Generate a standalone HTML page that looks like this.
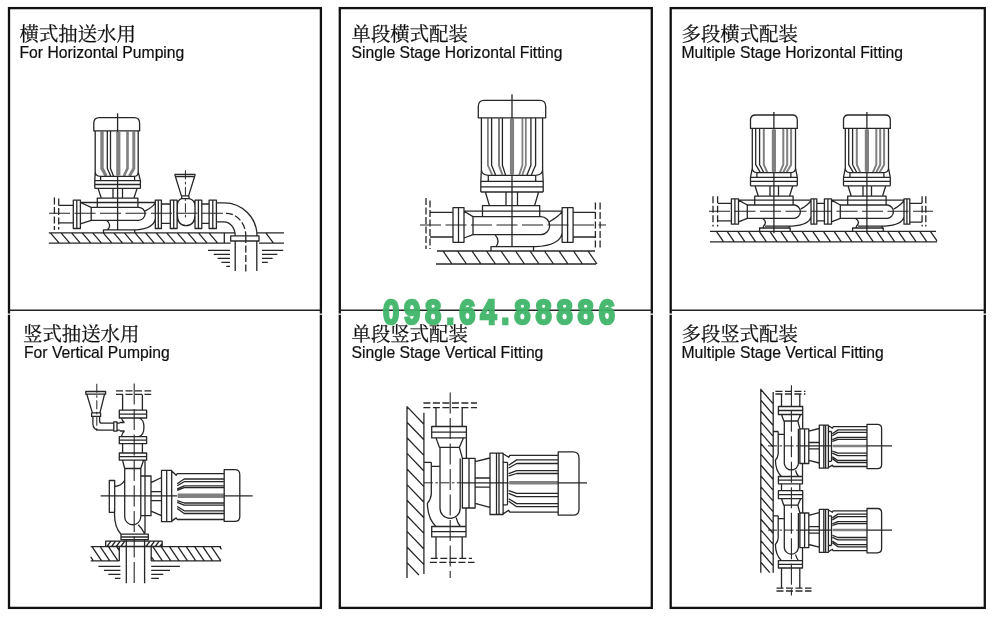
<!DOCTYPE html>
<html lang="zh">
<head>
<meta charset="utf-8">
<title>Pump installation diagrams</title>
<style>
html,body{margin:0;padding:0;background:#fff;}
body{width:1000px;height:622px;overflow:hidden;}
svg{display:block;}
.zh{font-family:"Liberation Serif","Noto Serif CJK SC",serif;font-size:19.4px;stroke:#111;stroke-width:.25px;}
.en{font-family:"Liberation Sans","Noto Sans CJK SC",sans-serif;font-size:15.7px;stroke:#111;stroke-width:.2px;}
.wm{font-family:"Liberation Sans",sans-serif;font-weight:bold;font-size:35.6px;fill:#3fb568;stroke:#3fb568;stroke-width:2.6px;stroke-linejoin:miter;opacity:.94;}
</style>
</head>
<body>
<svg width="1000" height="622" viewBox="0 0 1000 622">
<defs><filter id="soft" x="0" y="0" width="1000" height="622" filterUnits="userSpaceOnUse"><feGaussianBlur stdDeviation="0.3"/></filter></defs>
<rect width="1000" height="622" fill="#fff"/>
<g fill="none" stroke="#111" stroke-width="2.3">
<rect x="9" y="8.1" width="311.9" height="599.8"/>
<rect x="339.8" y="8.1" width="312" height="599.8"/>
<rect x="670.7" y="8.1" width="314.1" height="599.8"/>
</g>
<g fill="#fff" fill-opacity="0.85">
<rect x="7" y="313.5" width="4" height="1.4"/>
<rect x="318.9" y="313.5" width="4" height="1.4"/>
<rect x="337.8" y="313.5" width="4" height="1.4"/>
<rect x="649.8" y="313.5" width="4" height="1.4"/>
<rect x="668.7" y="313.5" width="4" height="1.4"/>
<rect x="982.8" y="313.5" width="4" height="1.4"/>
</g>
<g stroke="#222" stroke-width="1.6">
<line x1="9" y1="310.3" x2="320.9" y2="310.3"/>
<line x1="339.8" y1="310.3" x2="651.8" y2="310.3"/>
<line x1="670.7" y1="310.3" x2="984.8" y2="310.3"/>
</g>
<g fill="none" stroke="#262626" stroke-width="1.3" stroke-linecap="butt" stroke-linejoin="round" filter="url(#soft)">
<path stroke="#808080" stroke-width="1.8" d="M487.9 118.3V165.3L492.2 174.9M522.4 118.3V165.3L519.2 174.9M525.8 118.3V165.3L522.3 174.9"/>
<path stroke="#808080" stroke-width="2" d="M499 118.3V165.3L502.4 174.9M763.8 128.9V164.7L767.3 172.3M783.3 128.9V164.7L779.9 172.3M787.2 128.9V164.7L783.3 172.3M791.1 128.9V164.7L786.7 172.3M856.8 128.9V164.7L860.3 172.3M876.3 128.9V164.7L872.9 172.3M880.2 128.9V164.7L876.3 172.3M884.1 128.9V164.7L879.7 172.3"/>
<path stroke="#808080" stroke-width="2.5" d="M832.9 445.9L867 445.9M832.9 530.1L867 530.1"/>
<path stroke="#808080" stroke-width="2.6" d="M127.5 131.4V168.4L123.9 176"/>
<path stroke="#808080" stroke-width="3" d="M133.8 131.4V168.4L129.4 176"/>
<path stroke="#808080" stroke-width="3.4" d="M102 131.4V168.4L106.1 176"/>
<path stroke="#808080" stroke-width="3.6" d="M509.2 482.8L558.2 482.8"/>
<path stroke="#808080" stroke-width="4.2" d="M118.3 131.9L118.3 175.4M512 118.8L512 174.3M773.9 129.4L773.9 171.7M866.9 129.4L866.9 171.7"/>
<path stroke="#808080" stroke-width="4.6" d="M177.7 495.8L224.2 495.8"/>
<path d="M93.8 130.9V123.2Q93.8 117.7 99.3 117.7H134.1Q139.6 117.7 139.6 123.2V130.9ZM95.2 130.9V171.9Q95.2 175.9 100.6 176.4M100.6 176.4L100.6 180.6M95.2 171.9L94.8 180.6L94.8 188.4M138.2 130.9V171.9Q138.2 175.9 134.6 176.4M134.6 176.4L134.6 180.6M138.2 171.9L140.4 180.6L140.4 188.4M100.6 176.4L134.6 176.4M107.3 131.4V168.4L110.7 176M110.5 131.4V168.4L113.5 176M94.8 180.6L140.4 180.6M94.8 184.5L140.4 184.5M94.8 188.4L140.4 188.4M98.1 188.4L101.3 198.2M137.1 188.4L133.9 198.2M113 188.4L113 198.2M122.5 188.4L122.5 198.2M97.3 207.3L97.3 198.2L137.9 198.2L137.9 207.3M80.4 202.5L155.3 202.5M91.2 207.3H138.6A6.5 6.5 0 0 1 138.6 220.3H91.2ZM80.4 202.5L91.2 207.3M80.4 223.9L91.2 220.3M73.3 200.1L80.4 200.1L80.4 228.5L73.3 228.5ZM76.8 200.1L76.8 228.5M155.3 200.1L161.4 200.1L161.4 228.5L155.3 228.5ZM158.3 200.1L158.3 228.5M144.8 211.1Q152.3 207.5 155.3 203M109.1 229.8H136.7Q153.3 228.8 155.3 218.9M106.6 220.3Q112.1 225.1 107.6 229.8M103.5 232.9L103.5 229.8L134.7 229.8L134.7 232.9M117.6 113.2L117.6 131.9M117.6 175.4L117.6 229.8M58.7 205.3L73.3 205.3M58.7 222.9L73.3 222.9M161.4 204L170.3 204M161.4 223.4L170.3 223.4M170.3 200.1L177.1 200.1L177.1 228.5L170.3 228.5ZM173.7 200.1L173.7 228.5M195 200.1L201.8 200.1L201.8 228.5L195 228.5ZM198.4 200.1L198.4 228.5M201.8 204L209.1 204M201.8 223.4L209.1 223.4M209.1 200.1L216.4 200.1L216.4 228.5L209.1 228.5ZM212.8 200.1L212.8 228.5M181.7 198.7C178.5 199.6 177.3 202 177.3 206V214C177.3 222 181 225.7 186.1 225.7C191.2 225.7 195 222 195 214V206C195 202 193.5 199.6 189 198.7M181.7 195.9L181.7 198.7M189 195.9L189 198.7M181.7 198.7L189 198.7M174.7 174.3L195.3 174.3M176.1 176.5L193.9 176.5M174.7 174.3L181.4 195.9L181.4 195.9M195.3 174.3L188.6 195.9L188.6 195.9M181.4 195.9L188.6 195.9M216.4 202.9H224A33 33 0 0 1 257 235.9M216.4 221.8H224A11.2 14.1 0 0 1 235.2 235.9M48.8 232.9L235.2 232.9M257 232.9L284 232.9M48.8 243.1L230.7 243.1M259 243.1L284 243.1M50.4 232.9L59.2 243.1M61 232.9L69.8 243.1M71.5 232.9L80.3 243.1M82.1 232.9L90.9 243.1M92.7 232.9L101.5 243.1M103.2 232.9L112 243.1M113.8 232.9L122.6 243.1M124.4 232.9L133.2 243.1M135 232.9L143.8 243.1M145.5 232.9L154.3 243.1M156.1 232.9L164.9 243.1M166.7 232.9L175.5 243.1M177.2 232.9L186 243.1M187.8 232.9L196.6 243.1M198.4 232.9L207.2 243.1M208.9 232.9L217.7 243.1M224.3 232.9L224.3 243.1M265.8 232.9L273.5 243.1M230.7 235.9L259 235.9L259 241L230.7 241ZM235.2 241L235.2 271M256.8 241L256.8 271M208 250.3L230 250.3M213.7 254.3L230 254.3M217.6 258.3L230 258.3M221.4 262.3L230 262.3M226.3 266.3L230 266.3M262 250.3L283.2 250.3M262 254.3L277.4 254.3M262 258.3L272.6 258.3M262 262.3L267.8 262.3M478.3 117.8V106.3Q478.3 100.3 484.3 100.3H539.7Q545.7 100.3 545.7 106.3V117.8ZM481.4 117.8V169.8Q481.4 174.8 488.3 175.3M488.3 175.3L488.3 181.3M481.4 169.8L480.8 181.3L480.8 192M542.6 117.8V169.8Q542.6 174.8 535.7 175.3M535.7 175.3L535.7 181.3M542.6 169.8L543.2 181.3L543.2 192M488.3 175.3L535.7 175.3M491.6 118.3V165.3L495.6 174.9M502.4 118.3V165.3L505.5 174.9M530.9 118.3V165.3L527 174.9M535.6 118.3V165.3L531.3 174.9M480.8 181.3L543.2 181.3M480.8 186.8L543.2 186.8M480.8 192L543.2 192M485.4 192L489.4 205.6M538.6 192L534.6 205.6M506 192L506 205.6M517.5 192L517.5 205.6M482.5 216.4L482.5 205.6L539.7 205.6L539.7 216.4M464 211.2L562.1 211.2M473 216.6H540.7A9 9 0 0 1 540.7 234.6H473ZM464 211.2L473 216.6M464 238L473 234.6M453 207.6L464 207.6L464 242.3L453 242.3ZM458.5 207.6L458.5 242.3M562.1 207.6L573.1 207.6L573.1 242.3L562.1 242.3ZM567.6 207.6L567.6 242.3M549.4 221.8Q559.1 216.2 562.1 211.7M497.5 246.6H535.5Q560.1 245.6 562.1 233M495 234.6Q500.5 240.6 496 246.6M491 251L491 246.6L533.5 246.6L533.5 251M512 94.3L512 118.8M512 174.3L512 246.6M430 212.4L453 212.4M430 237L453 237M573.1 212.4L595.4 212.4M573.1 237L595.4 237M437 251L595 251M436 264L596 264M443 251L452 264M457.5 251L466.5 264M472 251L481 264M486.5 251L495.5 264M501 251L510 264M515.5 251L524.5 264M530 251L539 264M544.5 251L553.5 264M559 251L568 264M573.5 251L582.5 264M588 251L597 264M750.5 128.4V120Q750.5 115 755.5 115H792.3Q797.3 115 797.3 120V128.4ZM752.3 128.4V168.2Q752.3 172.2 756.9 172.7M756.9 172.7L756.9 177.4M752.3 168.2L750.5 177.4L750.5 185.8M795.5 128.4V168.2Q795.5 172.2 790.9 172.7M790.9 172.7L790.9 177.4M795.5 168.2L797.3 177.4L797.3 185.8M756.9 172.7L790.9 172.7M755.7 128.9V164.7L760.2 172.3M759.6 128.9V164.7L763.6 172.3M750.5 177.4L797.3 177.4M750.5 181.3L797.3 181.3M750.5 185.8L797.3 185.8M755 185.8L758.3 196.2M792.8 185.8L789.5 196.2M770 185.8L770 196.2M778.5 185.8L778.5 196.2M754.7 205L754.7 196.2L793.1 196.2L793.1 205M738.5 200.1L811 200.1M747.3 205H794.5A6.7 6.7 0 0 1 794.5 218.3H747.3ZM738.5 200.1L747.3 205M738.5 221.9L747.3 218.3M731.4 198.8L738.5 198.8L738.5 224.2L731.4 224.2ZM734.9 198.8L734.9 224.2M811 198.8L816.8 198.8L816.8 224.2L811 224.2ZM813.9 198.8L813.9 224.2M800.9 208.9Q808 205.1 811 200.6M764.9 226.1H792.2Q809 225.1 811 216.9M762.4 218.3Q767.9 222.2 763.4 226.1M759.6 231.3L759.6 228L790.2 228L790.2 231.3M763.4 226.1L763.4 228M789.2 226.1L789.2 228M773.9 112L773.9 129.4M773.9 171.7L773.9 233.3M718 203.4L731.4 203.4M718 220.9L731.4 220.9M843.5 128.4V120Q843.5 115 848.5 115H885.3Q890.3 115 890.3 120V128.4ZM845.3 128.4V168.2Q845.3 172.2 849.9 172.7M849.9 172.7L849.9 177.4M845.3 168.2L843.5 177.4L843.5 185.8M888.5 128.4V168.2Q888.5 172.2 883.9 172.7M883.9 172.7L883.9 177.4M888.5 168.2L890.3 177.4L890.3 185.8M849.9 172.7L883.9 172.7M848.7 128.9V164.7L853.2 172.3M852.6 128.9V164.7L856.6 172.3M843.5 177.4L890.3 177.4M843.5 181.3L890.3 181.3M843.5 185.8L890.3 185.8M848 185.8L851.3 196.2M885.8 185.8L882.5 196.2M863 185.8L863 196.2M871.5 185.8L871.5 196.2M847.7 205L847.7 196.2L886.1 196.2L886.1 205M831.5 200.1L904 200.1M840.3 205H887.5A6.7 6.7 0 0 1 887.5 218.3H840.3ZM831.5 200.1L840.3 205M831.5 221.9L840.3 218.3M824.4 198.8L831.5 198.8L831.5 224.2L824.4 224.2ZM827.9 198.8L827.9 224.2M904 198.8L909.8 198.8L909.8 224.2L904 224.2ZM906.9 198.8L906.9 224.2M893.9 208.9Q901 205.1 904 200.6M857.9 226.1H885.2Q902 225.1 904 216.9M855.4 218.3Q860.9 222.2 856.4 226.1M852.6 231.3L852.6 228L883.2 228L883.2 231.3M856.4 226.1L856.4 228M882.2 226.1L882.2 228M866.9 112L866.9 129.4M866.9 171.7L866.9 233.3M909.8 203.4L922 203.4M909.8 222.2L922 222.2M816.8 203.4L824.4 203.4M816.8 220.9L824.4 220.9M710 231.3L936 231.3M710 241.8L937 241.8M716.4 231.3L723.6 241.8M727.1 231.3L734.3 241.8M737.8 231.3L745 241.8M748.5 231.3L755.7 241.8M759.2 231.3L766.4 241.8M769.9 231.3L777.1 241.8M780.6 231.3L787.8 241.8M791.3 231.3L798.5 241.8M802 231.3L809.2 241.8M812.7 231.3L819.9 241.8M823.4 231.3L830.6 241.8M834.1 231.3L841.3 241.8M844.8 231.3L852 241.8M855.5 231.3L862.7 241.8M866.2 231.3L873.4 241.8M876.9 231.3L884.1 241.8M887.6 231.3L894.8 241.8M898.3 231.3L905.5 241.8M909 231.3L916.2 241.8M919.7 231.3L926.9 241.8M930.4 231.3L937 240.9M121 534.2L148.3 534.2L148.3 539.7L121 539.7ZM121 537L148.3 537M122.5 460.2L124.7 468.5L140.8 468.5L143.5 460.2M124.7 468.5V516.7A8 8 0 0 0 140.8 516.7V476M140.8 468.5L140.8 476M145 460.8L145 533M138.2 524.7Q141.7 527.8 145 534.2M140.8 476L151 476L151 515.7L140.8 515.7ZM151 482.7L161.5 477.5M151 511.2L161.5 515.7M151 491.7L161.5 491.7M151 500.7L161.5 500.7M161.5 470.4L171.7 470.4L171.7 521.7L161.5 521.7ZM166.7 470.4L166.7 521.7M171.7 471L176.2 475.3L177.2 473.7L224.2 473.7M171.7 521.1L176.2 517.9L177.2 519.5L224.2 519.5M177.2 483.8L184.2 479L224.2 479M177.2 485.8L184.2 481.7L224.2 481.7M177.2 488.8L184.2 485.8L224.2 485.8M177.2 490.3L184.2 487.7L224.2 487.7M177.2 500.7L184.2 503L224.2 503M177.2 502.3L184.2 505.2L224.2 505.2M177.2 506.5L184.2 510.8L224.2 510.8M177.2 508.5L184.2 513.5L224.2 513.5M224.2 469.7H234.8Q239.8 469.7 239.8 474.7V516.4Q239.8 521.4 234.8 521.4H224.2ZM100.6 495.8L177.2 495.8M224.2 495.8L252.6 495.8M109.3 480.5L114.7 480.5L114.7 512.3L109.3 512.3ZM114.7 486.5Q121.5 486 124.75 480.3M114.7 508.5C113.8 520 116 529 121 534.2M119.3 453L146.6 453L146.6 460.2L119.3 460.2ZM119.3 456.6L146.6 456.6M119.3 436.7L146.6 436.7L146.6 443.7L119.3 443.7ZM119.3 440.2L146.6 440.2M119.3 410.2L146.6 410.2L146.6 418L119.3 418ZM119.3 414.1L146.6 414.1M122.6 443.7L122.6 453M142.4 443.7L142.4 453M121.5 418Q122 421 124.5 422.5M124.5 431Q122 433 121.5 436.7M119.8 422.5L124.5 422.5M119.8 431L124.5 431M139 418C145.6 420 145.6 434.5 139 436.7M122.6 394.4L122.6 410.2M142.4 394.4L142.4 410.2M85.8 391.5L105.6 391.5L105.6 394.2L85.8 394.2ZM86.8 394.2L92.4 412.9M104.6 394.2L99.9 412.9M91.6 412.9L100.6 412.9L100.6 416.4L91.6 416.4ZM92.9 416.4V424Q93 430.2 100 430.2H113.8M99.6 416.4V421Q99.6 423.2 102 423.2H113.8M113.8 421.9L117 421.9L117 431.2L113.8 431.2ZM117 423.2L119.8 423.2M117 430.2L119.8 430.2M105.7 541.2L162.2 541.2L162.2 546.5L105.7 546.5ZM111 541.2L107 546.5M115.6 541.2L111.6 546.5M120.2 541.2L116.2 546.5M124.8 541.2L120.8 546.5M126.3 545.3L125.4 546.5M150 541.2L146 546.5M154.6 541.2L150.6 546.5M159.2 541.2L155.2 546.5M162.2 543.3L159.8 546.5M90.7 546.6L119.3 546.6M151.2 546.6L221 546.6M90.7 560.9L119.3 560.9M151.2 560.9L221 560.9M119.3 546.6L119.3 560.9M151.2 546.6L151.2 560.9M90.7 556.9L93.4 560.9M92 546.6L101.6 560.9M100.2 546.6L109.8 560.9M108.4 546.6L118 560.9M116.6 546.6L119.3 550.6M151.2 556.6L154.1 560.9M152.8 546.6L162.4 560.9M161.2 546.6L170.8 560.9M169.5 546.6L179.1 560.9M177.9 546.6L187.5 560.9M186.2 546.6L195.8 560.9M194.6 546.6L204.2 560.9M202.9 546.6L212.5 560.9M211.3 546.6L220.9 560.9M219.6 546.6L221.5 549.4M126.3 539.7L126.3 583.3M144.6 539.7L144.6 583.3M98.4 566.4L120.4 566.4M103.9 570.4L120.4 570.4M108.3 574.4L120.4 574.4M114.9 578.4L120.4 578.4M151.2 566.4L179.9 566.4M151.2 570.4L170 570.4M151.2 574.4L163.3 574.4M151.2 578.4L158.9 578.4M431.7 426.5L466.4 426.5L466.4 437.9L431.7 437.9ZM431.7 432.2L466.4 432.2M431.7 526.5L466 526.5L466 536.9L431.7 536.9ZM431.7 531.7L466 531.7M436 437.9L439.4 447.3L459.4 447.3L463.4 437.9M440 447.3V508.2A10.1 10.1 0 0 0 460.2 508.2V458.4M459.4 447.3L462.4 458.4M466.4 437.9L466.4 458.4M466 508L466 526.5M456.2 517.7Q457.2 522.8 460.4 526.5M462.4 458.4L475.1 458.4L475.1 508L462.4 508ZM469 458.4L469 508M475.1 461.7L489.8 458M475.1 503.4L489.8 507.3M475.1 478L489.8 478M475.1 487.1L489.8 487.1M490 453.2L503.1 453.2L503.1 514.5L490 514.5ZM496.5 453.2L496.5 514.5M499 453.2L499 514.5M503.1 453.8L508.7 457.3L509.8 455.4L558.2 455.4M503.1 513.9L508.7 510.3L509.8 512.2L558.2 512.2M507.5 462.3L507.5 504.8M503.1 462.3L507.5 462.3M503.1 504.8L507.5 504.8M508.7 465.2L516.7 459.9L558.2 459.9M508.7 468L516.7 463.5L558.2 463.5M508.7 473.7L516.7 470.7L558.2 470.7M508.7 475.9L516.7 473.5L558.2 473.5M508.7 490.6L516.7 493.3L558.2 493.3M508.7 493.3L516.7 496.7L558.2 496.7M508.7 498.7L516.7 503.6L558.2 503.6M508.7 501.2L516.7 506.7L558.2 506.7M558.2 451.9H573Q579 451.9 579 457.9V509.2Q579 515.2 573 515.2H558.2ZM431.3 462.3L431.3 494.3M424.5 462.3L431.3 462.3M431.3 466.3L440 466.3M431.3 494.3Q430.7 499.8 427.4 503.4Q427.7 518.8 436 526.5M436 407.6L436 426.5M462.2 407.6L462.2 426.5M436 536.9L436 558.4M462.2 536.9L462.2 558.4M462.4 482.8L508.7 482.8M558.2 482.8L587 482.8M407 406.3L407 578M423.9 412.8L423.9 574M407 406.6L423.9 424.2M407 422.2L423.9 439.8M407 437.8L423.9 455.4M407 453.4L423.9 471M407 469L423.9 486.6M407 484.6L423.9 502.2M407 500.2L423.9 517.8M407 515.8L423.9 533.4M407 531.4L423.9 549M407 547L423.9 564.6M407 562.6L418.9 575M778.4 406.5L802.7 406.5L802.7 414.5L778.4 414.5ZM778.4 410.5L802.7 410.5M778.4 476.5L802.5 476.5L802.5 483.8L778.4 483.8ZM778.4 480.1L802.5 480.1M781.5 414.5L783.8 421L797.8 421L800.6 414.5M784.3 421V463.7A7.1 7.1 0 0 0 798.4 463.7V428.8M797.8 421L799.9 428.8M802.7 414.5L802.7 428.8M802.5 463.5L802.5 476.5M795.6 470.3Q796.3 473.9 798.5 476.5M799.9 428.8L808.8 428.8L808.8 463.5L799.9 463.5ZM804.6 428.8L804.6 463.5M808.8 431.1L819.1 428.5M808.8 460.3L819.1 463M808.8 442.5L819.1 442.5M808.8 448.9L819.1 448.9M819.3 425.2L828.4 425.2L828.4 468.1L819.3 468.1ZM823.8 425.2L823.8 468.1M825.6 425.2L825.6 468.1M828.4 425.8L832.4 428.1L833.1 426.7L867 426.7M828.4 467.5L832.4 465.1L833.1 466.5L867 466.5M831.5 431.5L831.5 461.3M828.4 431.5L831.5 431.5M828.4 461.3L831.5 461.3M832.4 433.7L837.9 429.9L867 429.9M832.4 435.7L837.9 432.4L867 432.4M832.4 439.7L837.9 437.4L867 437.4M832.4 441.3L837.9 439.4L867 439.4M832.4 451.2L837.9 453.2L867 453.2M832.4 453.1L837.9 455.6L867 455.6M832.4 456.9L837.9 460.5L867 460.5M832.4 458.6L837.9 462.6L867 462.6M867 424.3H877.4Q881.6 424.3 881.6 428.5V464.4Q881.6 468.6 877.4 468.6H867ZM778.2 431.5L778.2 453.9M773.4 431.5L778.2 431.5M778.2 434.3L784.3 434.3M778.2 453.9Q777.8 457.8 775.4 460.3Q775.6 471.1 781.5 476.5M781.5 394L781.5 406.5M799.8 394L799.8 406.5M799.9 445.9L832.4 445.9M867 445.9L892 445.9M778.4 490.7L802.7 490.7L802.7 498.7L778.4 498.7ZM778.4 494.7L802.7 494.7M778.4 560.7L802.5 560.7L802.5 568L778.4 568ZM778.4 564.3L802.5 564.3M781.5 498.7L783.8 505.2L797.8 505.2L800.6 498.7M784.3 505.2V547.9A7.1 7.1 0 0 0 798.4 547.9V513M797.8 505.2L799.9 513M802.7 498.7L802.7 513M802.5 547.7L802.5 560.7M795.6 554.5Q796.3 558.1 798.5 560.7M799.9 513L808.8 513L808.8 547.7L799.9 547.7ZM804.6 513L804.6 547.7M808.8 515.3L819.1 512.7M808.8 544.5L819.1 547.2M808.8 526.7L819.1 526.7M808.8 533.1L819.1 533.1M819.3 509.4L828.4 509.4L828.4 552.3L819.3 552.3ZM823.8 509.4L823.8 552.3M825.6 509.4L825.6 552.3M828.4 510L832.4 512.3L833.1 510.9L867 510.9M828.4 551.7L832.4 549.3L833.1 550.7L867 550.7M831.5 515.8L831.5 545.5M828.4 515.8L831.5 515.8M828.4 545.5L831.5 545.5M832.4 517.9L837.9 514.1L867 514.1M832.4 519.9L837.9 516.6L867 516.6M832.4 523.9L837.9 521.6L867 521.6M832.4 525.5L837.9 523.6L867 523.6M832.4 535.4L837.9 537.5L867 537.5M832.4 537.3L837.9 539.8L867 539.8M832.4 541.1L837.9 544.7L867 544.7M832.4 542.8L837.9 546.8L867 546.8M867 508.5H877.4Q881.6 508.5 881.6 512.7V548.6Q881.6 552.8 877.4 552.8H867ZM778.2 515.8L778.2 538.1M773.4 515.8L778.2 515.8M778.2 518.6L784.3 518.6M778.2 538.1Q777.8 542 775.4 544.5Q775.6 555.3 781.5 560.7M781.5 568L781.5 588.2M799.8 568L799.8 588.2M799.9 530.1L832.4 530.1M867 530.1L892 530.1M781.5 483.8L781.5 490.7M799.8 483.8L799.8 490.7M760.8 388.8L760.8 572.7M773.2 392L773.2 572.7M760.8 389.4L773.2 403.9M760.8 400.2L773.2 414.7M760.8 411L773.2 425.5M760.8 421.8L773.2 436.3M760.8 432.6L773.2 447.1M760.8 443.4L773.2 457.9M760.8 454.2L773.2 468.7M760.8 465L773.2 479.5M760.8 475.8L773.2 490.3M760.8 486.6L773.2 501.1M760.8 497.4L773.2 511.9M760.8 508.2L773.2 522.7M760.8 519L773.2 533.5M760.8 529.8L773.2 544.3M760.8 540.6L773.2 555.1M760.8 551.4L773.2 565.9M760.8 562.2L769.8 572.7"/>
<path stroke-width="1.1" stroke-dasharray="21 4.5" d="M49 213.3L226 213.3M420 225L606 225M709 211.2L933 211.2M134.2 383.5L134.2 585M450.2 392.6L450.2 578M791.4 385.3L791.4 595.5"/>
<path stroke-width="1" stroke-dasharray="9 2.5 2.5 2.5" d="M185.4 170.4L185.4 218.2M96.8 383.8L96.8 432.3M423.9 482.8L462.4 482.8M768 445.9L799.9 445.9M768 530.1L799.9 530.1"/>
<path stroke-dasharray="7 2.5" d="M54.4 197.5L54.4 230M58.7 198.5L58.7 229.5M226 213.3A19.8 22.6 0 0 1 245.8 235.9M245.8 236L245.8 272M426 198L426 249M430 200.4L430 249M595.4 202.5L595.4 249M600.1 202.5L600.1 249M713 196.2L713 226.5M717.6 196.2L717.6 226.5M922.1 196.2L922.1 226.5M925.8 196.2L925.8 226.5M116 390.9L151.2 390.9M116 394.4L151.2 394.4M423.4 403L477 403M423.4 407.6L477 407.6M430.8 558.4L472 558.4M429.9 562.3L474.5 562.3M775.4 391.3L805.4 391.3M775.4 394L805.4 394M776.5 588.2L811.5 588.2M776.5 591L811.5 591"/>
</g>
<g fill="#111" filter="url(#soft)">
<text class="zh" x="19.5" y="40.6">横式抽送水用</text>
<text class="en" x="19.5" y="58.3">For Horizontal Pumping</text>
<text class="zh" x="351.5" y="40.6">单段横式配装</text>
<text class="en" x="351.5" y="58.3">Single Stage Horizontal Fitting</text>
<text class="zh" x="681.5" y="40.6">多段横式配装</text>
<text class="en" x="681.5" y="58.3">Multiple Stage Horizontal Fitting</text>
<text class="zh" x="23" y="341">竖式抽送水用</text>
<text class="en" x="24" y="358.3">For Vertical Pumping</text>
<text class="zh" x="351.5" y="340.6">单段竖式配装</text>
<text class="en" x="351.5" y="358.3">Single Stage Vertical Fitting</text>
<text class="zh" x="681.5" y="340.6">多段竖式配装</text>
<text class="en" x="681.5" y="358.3">Multiple Stage Vertical Fitting</text>
</g>
<g filter="url(#soft)"><text class="wm" transform="translate(382.9 324.0) scale(0.82 1)" textLength="283" lengthAdjust="spacing">098.64.88886</text></g>
</svg>
</body>
</html>
